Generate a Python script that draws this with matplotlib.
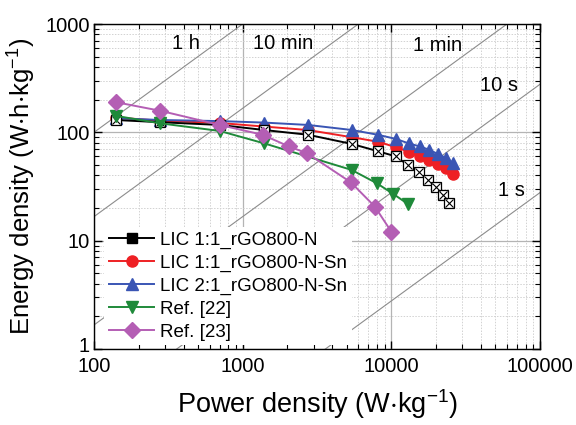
import matplotlib
matplotlib.use("Agg")
import matplotlib.pyplot as plt
from matplotlib.lines import Line2D
from matplotlib.ticker import LogLocator, FixedLocator, FuncFormatter, NullFormatter
import matplotlib.transforms as mtransforms
import numpy as np

plt.rcParams['font.family'] = ['Liberation Sans', 'DejaVu Sans']
plt.rcParams['mathtext.default'] = 'regular'

# ---- data ----
p_lic = [140, 280, 700, 1400, 2750, 5450, 8100, 10700, 13100, 15600, 18000, 20600, 23300, 26000]
e_lic21_sn = [135, 130, 127, 123, 117, 105, 95, 87, 79, 74, 69, 63, 58, 52]
e_lic11_sn = [137, 128, 122, 113, 105, 90, 82, 73, 66, 61, 56, 51, 46.5, 41]
p_lic11_n = [140, 280, 700, 1400, 2750, 5450, 8100, 10700, 12900, 15400, 17700, 20000, 22400, 24600]
e_lic11_n = [130, 124, 117, 105, 95, 78, 67, 60, 50, 43, 36.5, 31, 26.5, 22.5]
p_ref22 = [140, 280, 700, 1400, 5400, 7950, 10300, 13000]
e_ref22 = [142, 121, 103, 79, 45, 34, 27, 21.7]
p_ref23 = [140, 280, 700, 1360, 2050, 2720, 5350, 7750, 10000]
e_ref23 = [190, 158, 117, 95, 74, 64, 34.5, 20.6, 12.1]

labels = ['LIC 1:1_rGO800-N', 'LIC 1:1_rGO800-N-Sn', 'LIC 2:1_rGO800-N-Sn', 'Ref. [22]', 'Ref. [23]']

time_hours = [1, 1/6, 1/60, 1/360, 1/3600]
time_labels = ['1 h', '10 min', '1 min', '10 s', '1 s']
time_label_pos = [(415, 655), (1870, 655), (20500, 628), (53000, 270), (64700, 29)]

x_ticks = [100, 1000, 10000, 100000]
y_ticks = [1, 10, 100, 1000]

c_black = '#000000'
c_red = '#ee2024'
c_blue = '#3a55b4'
c_green = '#1f8a3a'
c_purple = '#b45eb4'

fig = plt.figure(figsize=(5.76, 4.25), dpi=100)
ax = fig.add_axes([94/576, 1-349/425, 446/576, 325/425])
ax.set_xscale('log')
ax.set_yscale('log')
ax.set_xlim(100, 100000)
ax.set_ylim(1, 1000)

# grid
ax.grid(True, which='major', color='#b4b4b4', linewidth=0.9, linestyle='-', zorder=0)
ax.grid(True, which='minor', color='#d2d2d2', linewidth=0.7, linestyle=(0, (1.5, 1.5)), zorder=0)
ax.set_axisbelow(True)

# constant-time lines
px = np.array([100.0, 100000.0])
for t in time_hours:
    ax.plot(px, px * t, color='#8c8c8c', linewidth=0.8, zorder=1)
for txt, (x, y) in zip(time_labels, time_label_pos):
    ax.text(x, y, txt, fontsize=14.5, ha='center', va='center', zorder=2)

lw = 1.4
ms_c, ms_t, ms_s, ms_d = 8, 8.5, 7, 8.5
ax.plot(p_lic, e_lic11_sn, color=c_red, marker='o', markersize=ms_c, linewidth=lw, zorder=3)
ax.plot(p_lic, e_lic21_sn, color=c_blue, marker='^', markersize=ms_t, linewidth=lw, zorder=4)
ax.plot(p_lic11_n, e_lic11_n, color=c_black, marker='s', markersize=ms_s, markerfacecolor='white',
        markeredgecolor='black', markeredgewidth=0.9, linewidth=lw, zorder=5)
ax.plot(p_lic11_n, e_lic11_n, linestyle='none', marker='x', markersize=ms_s - 1, color='black',
        markeredgewidth=0.8, zorder=5)
ax.plot(p_ref22, e_ref22, color=c_green, marker='v', markersize=ms_t, linewidth=lw, zorder=6)
ax.plot(p_ref23, e_ref23, color=c_purple, marker='D', markersize=ms_d, linewidth=lw, zorder=7)

handles = [
    Line2D([], [], color=c_black, marker='s', markersize=ms_s, linewidth=lw),
    Line2D([], [], color=c_red, marker='o', markersize=ms_c, linewidth=lw),
    Line2D([], [], color=c_blue, marker='^', markersize=ms_t, linewidth=lw),
    Line2D([], [], color=c_green, marker='v', markersize=ms_t, linewidth=lw),
    Line2D([], [], color=c_purple, marker='D', markersize=ms_d, linewidth=lw),
]
leg = ax.legend(handles, labels, loc='lower left', bbox_to_anchor=(0.015, 0.0), fontsize=13.5,
                frameon=True, framealpha=1, edgecolor='none', facecolor='white', fancybox=False,
                handlelength=2.4, handletextpad=0.3, labelspacing=0.3, borderpad=0.25,
                borderaxespad=0.2)
leg.set_zorder(10)

# ticks
ax.xaxis.set_major_locator(FixedLocator(x_ticks))
ax.yaxis.set_major_locator(FixedLocator(y_ticks))
ax.xaxis.set_minor_locator(LogLocator(base=10, subs=np.arange(2, 10), numticks=20))
ax.yaxis.set_minor_locator(LogLocator(base=10, subs=np.arange(2, 10), numticks=20))
fmt = FuncFormatter(lambda v, pos: '%d' % round(v))
ax.xaxis.set_major_formatter(fmt)
ax.yaxis.set_major_formatter(fmt)
ax.xaxis.set_minor_formatter(NullFormatter())
ax.yaxis.set_minor_formatter(NullFormatter())
ax.tick_params(which='both', direction='in', top=True, right=True, labelsize=14.5)
ax.tick_params(axis='x', which='major', pad=6)
ax.tick_params(axis='y', which='major', pad=3)
ax.tick_params(which='major', length=6, width=1)
ax.tick_params(which='minor', length=3.5, width=0.8)
for s in ax.spines.values():
    s.set_linewidth(1.0)

# nudge the lowest y label ("1") up a little so it does not collide with "100"
fig.canvas.draw()
ylabels = ax.yaxis.get_majorticklabels()
shift = mtransforms.ScaledTranslation(0, 4/100, fig.dpi_scale_trans)
for lbl in ylabels:
    if lbl.get_text() == '1':
        lbl.set_transform(lbl.get_transform() + shift)

ax.set_xlabel(r'Power density (W$\cdot$kg$^{-1}$)', fontsize=19.5, labelpad=8)
ax.set_ylabel(r'Energy density (W$\cdot$h$\cdot$kg$^{-1}$)', fontsize=18.5, labelpad=5)

fig.savefig('out.png', dpi=100)
